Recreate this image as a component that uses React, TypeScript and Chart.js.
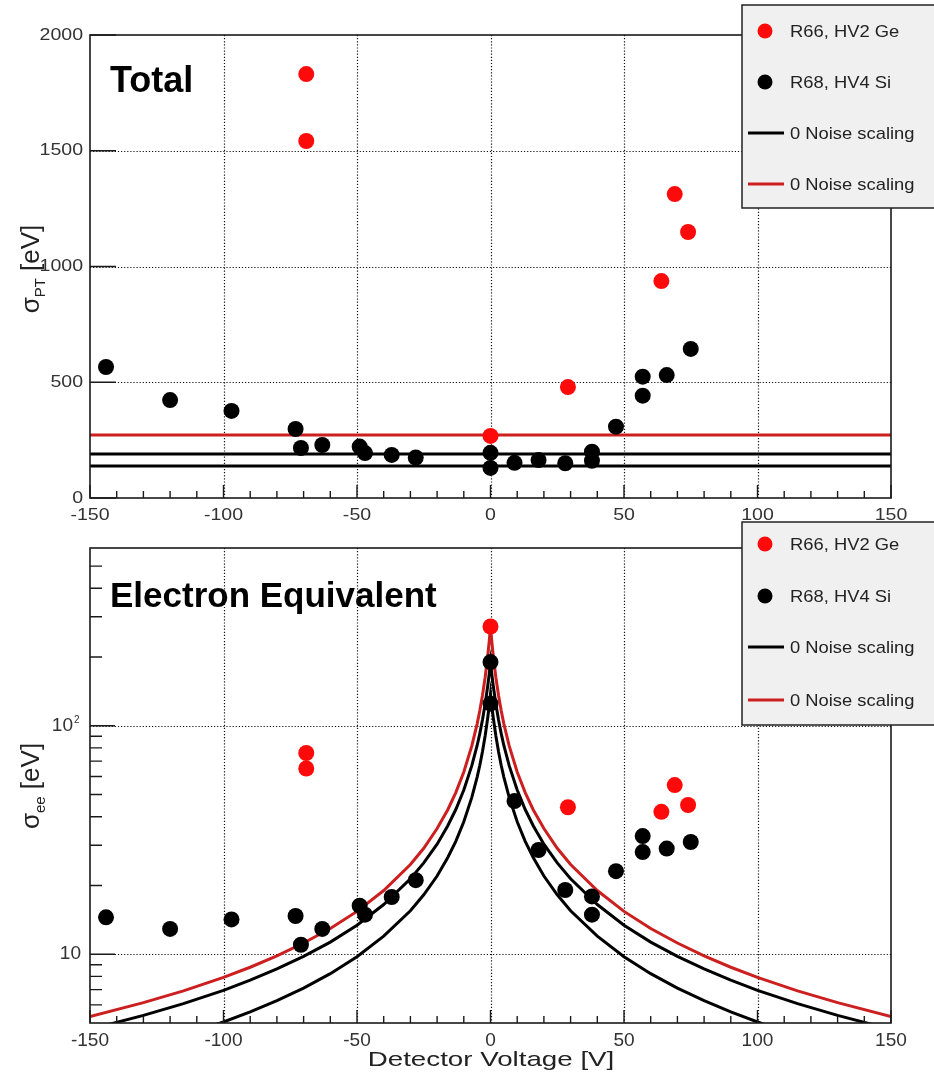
import React, { useEffect, useRef } from "react";
import { Chart, registerables } from "chart.js";
Chart.register(...registerables);

const FONT = '"Liberation Sans", Arial, Helvetica, sans-serif';
const MARKER_RED = "#ff0a0a";
const LINE_RED = "#cc1f1f";

// ---------- data ----------
const geVolts = [-69, -69, 0, 29, 64, 69, 74];
const geTotal = [1831, 1542, 268, 479, 937, 1313, 1149];
const geEe = [76, 65, 272, 44, 42, 55, 45];

const siVolts = [-144, -120, -97, -73, -71, -63, -49, -47, -37, -28, 0, 0, 9, 18, 28, 38, 38, 47, 57, 57, 66, 75];
const siTotal = [566, 423, 376, 298, 216, 229, 222, 194, 186, 175, 195, 130, 152, 164, 150, 200, 161, 308, 524, 442, 531, 644];
const siEe = [14.5, 12.9, 14.2, 14.7, 11.0, 12.9, 16.3, 14.9, 17.8, 21.1, 190, 125, 46.8, 28.6, 19.1, 17.9, 14.9, 23.1, 32.9, 28.0, 29.0, 31.0];

const noiseLevelsBlack = [190, 138];
const noiseLevelRed = 272;
const lineEnds = [-150, 150];

const curveVolts = [-150, -130, -115, -100, -90, -80, -70, -60, -50, -40, -30, -25, -20, -16, -13, -10, -7, -5, -4, -3, -2, -1, -0.5, 0, 0.5, 1, 2, 3, 4, 5, 7, 10, 13, 16, 20, 25, 30, 40, 50, 60, 70, 80, 90, 100, 115, 130, 150];
const redCurve = [5.33, 6.14, 6.91, 7.92, 8.77, 9.83, 11.2, 12.95, 15.4, 19.0, 24.7, 29.1, 35.5, 42.9, 51.0, 62.8, 81.6, 102, 116.6, 136, 163, 204, 233, 272, 233, 204, 163, 136, 116.6, 102, 81.6, 62.8, 51.0, 42.9, 35.5, 29.1, 24.7, 19.0, 15.4, 12.95, 11.2, 9.83, 8.77, 7.92, 6.91, 6.14, 5.33];
const blackCurveHi = [4.69, 5.40, 6.08, 6.95, 7.70, 8.62, 9.78, 11.3, 13.4, 16.5, 21.4, 25.1, 30.3, 36.5, 43.0, 52.3, 66.9, 82.0, 92.6, 106.2, 124.5, 150.4, 167.9, 190, 167.9, 150.4, 124.5, 106.2, 92.6, 82.0, 66.9, 52.3, 43.0, 36.5, 30.3, 25.1, 21.4, 16.5, 13.4, 11.3, 9.78, 8.62, 7.70, 6.95, 6.08, 5.40, 4.69];
const blackCurveLo = [3.41, 3.92, 4.41, 5.05, 5.59, 6.26, 7.11, 8.22, 9.75, 12.0, 15.5, 18.2, 22.0, 26.5, 31.2, 38.0, 48.6, 59.6, 67.2, 77.1, 90.4, 109.2, 122, 138, 122, 109.2, 90.4, 77.1, 67.2, 59.6, 48.6, 38.0, 31.2, 26.5, 22.0, 18.2, 15.5, 12.0, 9.75, 8.22, 7.11, 6.26, 5.59, 5.05, 4.41, 3.92, 3.41];

const xMajorTicks = [-150, -100, -50, 0, 50, 100, 150];
const xMinorTicks = [-140, -130, -120, -110, -90, -80, -70, -60, -40, -30, -20, -10, 10, 20, 30, 40, 60, 70, 80, 90, 110, 120, 130, 140];
const xGridLines = [-100, -50, 0, 50, 100];
const xTickLabels = ["-150", "-100", "-50", "0", "50", "100", "150"];

const topYTicks = [0, 500, 1000, 1500, 2000];
const topYTickLabels = ["0", "500", "1000", "1500", "2000"];
const topYGrid = [500, 1000, 1500];

const botYMajor = [10, 100];
const botYMinor = [6, 7, 8, 9, 20, 30, 40, 50, 60, 70, 80, 90, 200, 300, 400, 500];

const legendLabels = ["R66, HV2 Ge", "R68, HV4 Si", "0 Noise scaling", "0 Noise scaling"];

// ---------- helpers ----------
function drawText(ctx: CanvasRenderingContext2D, text: string, x: number, y: number, size: number, sx: number,
  align: "left" | "center" | "right", baseline: CanvasTextBaseline, color = "#222", weight = "normal") {
  ctx.save();
  ctx.font = `${weight} ${size}px ${FONT}`;
  ctx.fillStyle = color;
  ctx.textBaseline = baseline;
  ctx.textAlign = "left";
  const w = ctx.measureText(text).width * sx;
  let left = x;
  if (align === "center") left = x - w / 2;
  else if (align === "right") left = x - w;
  ctx.translate(left, y);
  ctx.scale(sx, 1);
  ctx.fillText(text, 0, 0);
  ctx.restore();
}

type Cfg = {
  height: number;
  padTop: number;
  xScaleH: number;
  log: boolean;
  yMin: number;
  yMax: number;
  title: string;
  titleSize: number;
  titleBaseline: number;
  yTitleSub: string;
  yTitleCenter: number;
  legendTop: number;
  legendBottom: number;
  legendRows: number[];
  xTitle: boolean;
  tickSize: number;
  tickSx: number;
  datasets: any[];
};

function makePlugin(cfg: Cfg) {
  return {
    id: "panelDecor",
    beforeDatasetsDraw(chart: any) {
      const { ctx, chartArea: a, scales } = chart;
      drawText(ctx, cfg.title, 110, cfg.titleBaseline, cfg.titleSize, 1, "left", "alphabetic", "#000", "bold");
      ctx.save();
      ctx.strokeStyle = "#111";
      ctx.lineWidth = 1.2;
      ctx.setLineDash([1.2, 1.9]);
      ctx.beginPath();
      for (const v of xGridLines) {
        const px = Math.round(scales.x.getPixelForValue(v)) + 0.5;
        ctx.moveTo(px, a.top);
        ctx.lineTo(px, a.bottom);
      }
      const yg = cfg.log ? botYMajor : topYGrid;
      for (const v of yg) {
        const py = Math.round(scales.y.getPixelForValue(v)) + 0.5;
        ctx.moveTo(a.left, py);
        ctx.lineTo(a.right, py);
      }
      ctx.stroke();
      ctx.restore();
    },
    afterDatasetsDraw(chart: any) {
      const { ctx, chartArea: a, scales } = chart;
      ctx.save();
      ctx.strokeStyle = "#1a1a1a";
      ctx.lineWidth = 1.6;
      ctx.setLineDash([]);
      ctx.strokeRect(a.left, a.top, a.right - a.left, a.bottom - a.top);
      ctx.lineWidth = 1.4;
      ctx.beginPath();
      for (const v of xMajorTicks) {
        const px = scales.x.getPixelForValue(v);
        ctx.moveTo(px, a.bottom);
        ctx.lineTo(px, a.bottom - 13);
      }
      for (const v of xMinorTicks) {
        const px = scales.x.getPixelForValue(v);
        ctx.moveTo(px, a.bottom);
        ctx.lineTo(px, a.bottom - 7);
      }
      if (cfg.log) {
        for (const v of botYMajor) {
          const py = scales.y.getPixelForValue(v);
          ctx.moveTo(a.left, py);
          ctx.lineTo(a.left + 25, py);
        }
        for (const v of botYMinor) {
          const py = scales.y.getPixelForValue(v);
          ctx.moveTo(a.left, py);
          ctx.lineTo(a.left + 12, py);
        }
      } else {
        for (const v of topYTicks) {
          const py = scales.y.getPixelForValue(v);
          ctx.moveTo(a.left, py);
          ctx.lineTo(a.left + 26, py);
        }
      }
      ctx.stroke();
      ctx.restore();

      xMajorTicks.forEach((v, i) => {
        drawText(ctx, xTickLabels[i], scales.x.getPixelForValue(v), a.bottom + 9, cfg.tickSize, cfg.tickSx, "center", "top", "#333");
      });
      if (cfg.log) {
        const p10 = scales.y.getPixelForValue(10);
        drawText(ctx, "10", 81, p10, cfg.tickSize, cfg.tickSx, "right", "middle", "#333");
        const p100 = scales.y.getPixelForValue(100);
        drawText(ctx, "10", 73, p100, cfg.tickSize, cfg.tickSx, "right", "middle", "#333");
        drawText(ctx, "2", 74, p100 - 6, 10, 1, "left", "middle", "#333");
      } else {
        topYTicks.forEach((v, i) => {
          drawText(ctx, topYTickLabels[i], 83, scales.y.getPixelForValue(v), cfg.tickSize, cfg.tickSx, "right", "middle", "#333");
        });
      }
      ctx.save();
      ctx.translate(30, cfg.yTitleCenter);
      ctx.rotate(-Math.PI / 2);
      ctx.fillStyle = "#222";
      ctx.textBaseline = "alphabetic";
      const big = 26, small = 15;
      ctx.font = `${big}px ${FONT}`;
      const w1 = ctx.measureText("σ").width;
      const w3 = ctx.measureText(" [eV]").width;
      ctx.font = `${small}px ${FONT}`;
      const w2 = ctx.measureText(cfg.yTitleSub).width;
      const start = -(w1 + w2 + w3) / 2;
      ctx.font = `${big}px ${FONT}`;
      ctx.fillText("σ", start, 9);
      ctx.fillText(" [eV]", start + w1 + w2, 9);
      ctx.font = `${small}px ${FONT}`;
      ctx.fillText(cfg.yTitleSub, start + w1, 15);
      ctx.restore();
      if (cfg.xTitle) {
        drawText(ctx, "Detector Voltage [V]", 491, 540, 21, 1.32, "center", "middle", "#222");
      }
      ctx.save();
      ctx.fillStyle = "#f0f0f0";
      ctx.fillRect(742, cfg.legendTop, 220, cfg.legendBottom - cfg.legendTop);
      ctx.strokeStyle = "#222";
      ctx.lineWidth = 1.5;
      ctx.strokeRect(742, cfg.legendTop, 220, cfg.legendBottom - cfg.legendTop);
      const kinds = ["marker", "marker", "line", "line"];
      const colors = [MARKER_RED, "#000", "#000", LINE_RED];
      cfg.legendRows.forEach((y, i) => {
        if (kinds[i] === "marker") {
          ctx.beginPath();
          ctx.fillStyle = colors[i];
          ctx.arc(765, y, 7.5, 0, Math.PI * 2);
          ctx.fill();
        } else {
          ctx.beginPath();
          ctx.strokeStyle = colors[i];
          ctx.lineWidth = 3;
          ctx.moveTo(748, y);
          ctx.lineTo(784, y);
          ctx.stroke();
        }
        drawText(ctx, legendLabels[i], 790, y + 1, 17, 1.08, "left", "middle", "#222");
      });
      ctx.restore();
    },
  };
}

const pts = (xs: number[], ys: number[]) => xs.map((x, i) => ({ x, y: ys[i] }));

const hLine = (y: number, color: string) => ({
  data: lineEnds.map((x) => ({ x, y })),
  showLine: true,
  borderColor: color,
  borderWidth: 3,
  pointRadius: 0,
  order: 2,
  clip: 0,
});

const curve = (ys: number[], color: string) => ({
  data: pts(curveVolts, ys),
  showLine: true,
  borderColor: color,
  borderWidth: 3,
  pointRadius: 0,
  tension: 0,
  order: 2,
  clip: 0,
});

const markers = (xs: number[], ys: number[], color: string) => ({
  data: pts(xs, ys),
  showLine: false,
  pointRadius: 8,
  pointBackgroundColor: color,
  pointBorderWidth: 0,
  pointStyle: "circle",
  order: 0,
});

const topCfg: Cfg = {
  height: 520,
  padTop: 35,
  xScaleH: 22,
  log: false,
  yMin: 0,
  yMax: 2000,
  title: "Total",
  titleSize: 36,
  titleBaseline: 92,
  yTitleSub: "PT",
  yTitleCenter: 269,
  legendTop: 5,
  legendBottom: 208,
  legendRows: [31, 82, 133, 184],
  xTitle: false,
  tickSize: 17,
  tickSx: 1.15,
  datasets: [
    hLine(noiseLevelRed, LINE_RED),
    hLine(noiseLevelsBlack[0], "#000"),
    hLine(noiseLevelsBlack[1], "#000"),
    markers(siVolts, siTotal, "#000"),
    markers(geVolts, geTotal, MARKER_RED),
  ],
};

const botCfg: Cfg = {
  height: 555,
  padTop: 28,
  xScaleH: 52,
  log: true,
  yMin: 5,
  yMax: 600,
  title: "Electron Equivalent",
  titleSize: 35,
  titleBaseline: 87,
  yTitleSub: "ee",
  yTitleCenter: 266,
  legendTop: 2,
  legendBottom: 205,
  legendRows: [24, 76, 127, 180],
  xTitle: true,
  tickSize: 18,
  tickSx: 1.06,
  datasets: [
    curve(blackCurveLo, "#000"),
    curve(blackCurveHi, "#000"),
    curve(redCurve, LINE_RED),
    markers(siVolts, siEe, "#000"),
    markers(geVolts, geEe, MARKER_RED),
  ],
};

function Panel({ cfg }: { cfg: Cfg }) {
  const ref = useRef<HTMLCanvasElement>(null);
  useEffect(() => {
    const chart = new Chart(ref.current as HTMLCanvasElement, {
      type: "scatter",
      data: { datasets: cfg.datasets },
      options: {
        responsive: false,
        animation: false,
        devicePixelRatio: 1,
        layout: { padding: { top: cfg.padTop, right: 43, left: 0, bottom: 0 } },
        plugins: { legend: { display: false }, tooltip: { enabled: false } },
        scales: {
          x: {
            type: "linear",
            min: -150,
            max: 150,
            ticks: { display: false },
            grid: { display: false },
            border: { display: false },
            afterFit: (s: any) => {
              s.height = cfg.xScaleH;
            },
          },
          y: {
            type: cfg.log ? "logarithmic" : "linear",
            min: cfg.yMin,
            max: cfg.yMax,
            ticks: { display: false },
            grid: { display: false },
            border: { display: false },
            afterFit: (s: any) => {
              s.width = 90;
            },
          },
        },
      } as any,
      plugins: [makePlugin(cfg)],
    });
    return () => chart.destroy();
  }, []);
  return <canvas ref={ref} width={934} height={cfg.height} style={{ display: "block", width: 934, height: cfg.height }} />;
}

export default function App() {
  return (
    <div style={{ position: "absolute", left: 0, top: 0, width: 934, height: 1075, background: "#fff" }}>
      <Panel cfg={topCfg} />
      <Panel cfg={botCfg} />
    </div>
  );
}
